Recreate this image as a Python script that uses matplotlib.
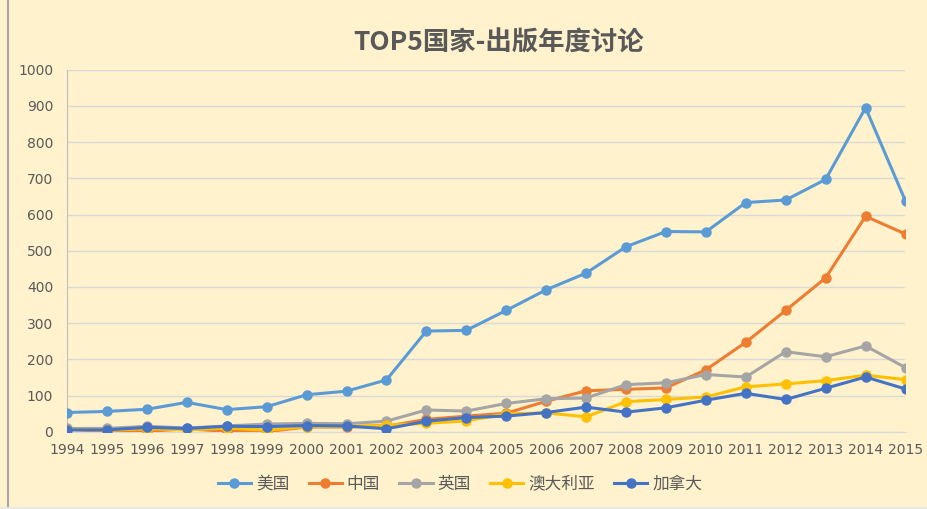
import matplotlib
matplotlib.use("Agg")
import matplotlib.pyplot as plt
from matplotlib.lines import Line2D

years = list(range(1994, 2016))
usa = [53, 56, 62, 81, 61, 69, 102, 112, 143, 278, 280, 335, 392, 438, 511, 553, 552, 633, 640, 697, 895, 637]
china = [7, 1, 1, 8, 1, 0, 13, 13, 15, 34, 43, 51, 84, 113, 117, 121, 171, 247, 335, 425, 595, 546]
uk = [9, 9, 15, 10, 16, 21, 23, 22, 29, 60, 57, 78, 91, 93, 130, 135, 158, 151, 221, 207, 237, 177]
australia = [6, 4, 8, 5, 10, 4, 14, 15, 18, 23, 30, 49, 52, 41, 83, 89, 96, 124, 132, 141, 156, 144]
canada = [5, 5, 12, 9, 15, 14, 17, 16, 8, 29, 39, 43, 53, 68, 54, 66, 87, 106, 89, 120, 151, 118]
series_names = ["美国", "中国", "英国", "澳大利亚", "加拿大"]
title = "TOP5国家-出版年度讨论"

colors = ["#5B9BD5", "#ED7D31", "#A5A5A5", "#FFC000", "#4472C4"]
bg = "#FFF2CC"

plt.rcParams['font.family'] = ['Noto Sans CJK SC', 'DejaVu Sans']

fig = plt.figure(figsize=(9.28, 5.09), dpi=100, facecolor=bg)
ax = fig.add_axes([67 / 928, 1 - 431.7 / 509, (905.5 - 67) / 928, (431.7 - 69.7) / 509])
ax.set_facecolor(bg)

for vals, c, name in zip([usa, china, uk, australia, canada], colors, series_names):
    ax.plot(years, vals, color=c, lw=2.2, marker='o', markersize=6.5,
            markeredgecolor=c, markerfacecolor=c, label=name, zorder=3)

ax.set_xlim(1994, 2015)
ax.set_ylim(0, 1000)
ax.set_yticks(range(0, 1001, 100))
ax.set_xticks(years)
ax.set_xticklabels([str(y) for y in years])
ax.grid(axis='y', color='#D9D9D9', lw=1.0, zorder=0)
ax.set_axisbelow(True)
for s in ['top', 'right']:
    ax.spines[s].set_visible(False)
ax.spines['left'].set_color('#BFBFBF')
ax.spines['bottom'].set_color('#D9D9D9')
ax.tick_params(axis='both', length=0, colors='#595959', labelsize=10)
for lab in ax.get_xticklabels() + ax.get_yticklabels():
    lab.set_family('DejaVu Sans')
ax.tick_params(axis='y', pad=10)
ax.tick_params(axis='x', pad=8)

fig.text(499 / 928, 1 - 43 / 509, title, ha='center', va='center',
         fontsize=19, color='#595959', fontweight='bold')

leg = fig.legend(loc='center', bbox_to_anchor=(460 / 928, 1 - 484 / 509), ncol=5,
                 frameon=False, fontsize=12, handlelength=2.0, handletextpad=0.3,
                 columnspacing=1.15, labelcolor='#595959')

fig.add_artist(Line2D([7.5 / 928, 7.5 / 928], [0, 1], transform=fig.transFigure,
                      color='#A6A6A6', lw=1.5))
fig.add_artist(Line2D([0, 1], [1.5 / 509, 1.5 / 509], transform=fig.transFigure,
                      color='#E8E8E8', lw=2))

fig.savefig("out.png", dpi=100, facecolor=bg)
